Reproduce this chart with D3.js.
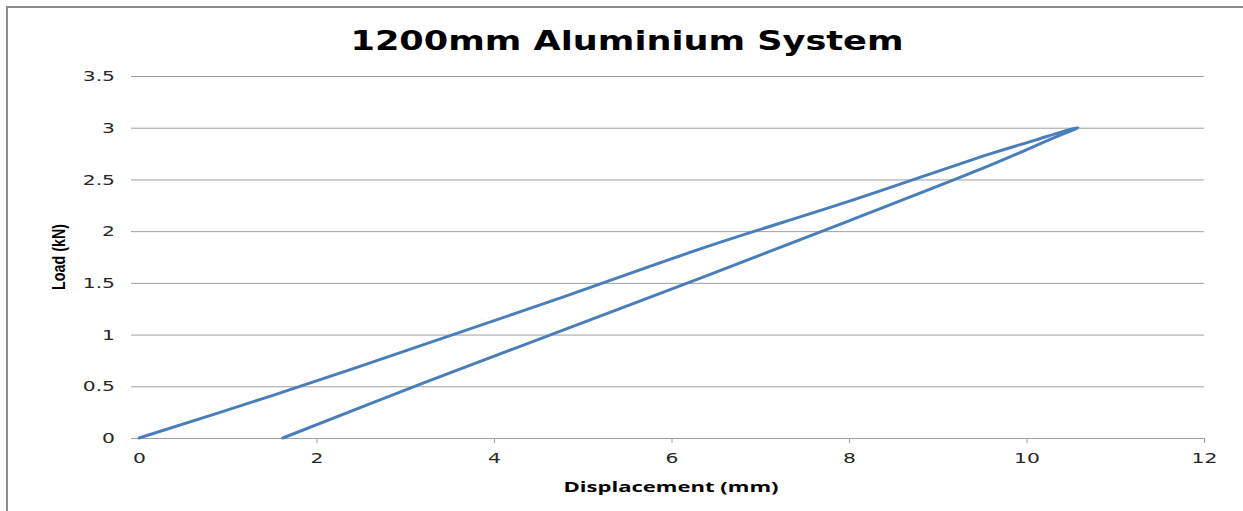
<!DOCTYPE html>
<html>
<head>
<meta charset="utf-8">
<script src="https://cdn.jsdelivr.net/npm/d3@7"></script>
<style>
  body { margin: 0; background: #fff; }
  svg { display: block; }
</style>
</head>
<body>
<svg id="chart" width="1243" height="511"></svg>
<script>
// load / unload cycle
const dispValues = [0, 1.5, 3.2, 4.8, 6.4, 7.97, 9.6, 10.1, 10.4, 10.58,
                    10.3, 9.6, 8.0, 6.4, 4.8, 3.2, 1.62];
const loadValues = [0, 0.41, 0.9, 1.37, 1.85, 2.28, 2.75, 2.88, 2.96, 3.0,
                    2.9, 2.64, 2.1, 1.57, 1.05, 0.53, 0];
const xTicks = [0, 2, 4, 6, 8, 10, 12];
const yTicks = [0, 0.5, 1, 1.5, 2, 2.5, 3, 3.5];

const svg = d3.select("#chart");
const margin = {top: 76, right: 39, bottom: 73, left: 139};
const width = 1243 - margin.left - margin.right;
const height = 511 - margin.top - margin.bottom;
const stretch = 1.4; // the picture's text is wide

// outer frame
svg.append("rect")
  .attr("x", 7).attr("y", 7)
  .attr("width", 1250).attr("height", 520)
  .attr("fill", "none")
  .attr("stroke", "#8c8c8c")
  .attr("stroke-width", 2);

const g = svg.append("g")
  .attr("transform", "translate(" + margin.left + "," + margin.top + ")");

const x = d3.scaleLinear().domain([0, 12]).range([0, width]);
const y = d3.scaleLinear().domain([0, 3.5]).range([height, 0]);

// gridlines + y labels
const yAxis = g.append("g")
  .call(d3.axisLeft(y).tickValues(yTicks).tickSize(-(width + 8)).tickPadding(16)
    .tickFormat(d => d));
yAxis.select(".domain").remove();
yAxis.selectAll(".tick line")
  .attr("x1", -8).attr("x2", width)
  .attr("stroke", "#a0a0a0");
yAxis.selectAll(".tick text")
  .attr("font-family", "Verdana, 'DejaVu Sans', sans-serif")
  .attr("font-size", 14.5)
  .attr("fill", "#262626")
  .attr("x", -24 / stretch)
  .attr("transform", "scale(" + stretch + ",1)");

// x axis
const xAxis = g.append("g")
  .attr("transform", "translate(0," + height + ")")
  .call(d3.axisBottom(x).tickValues(xTicks).tickSize(5).tickSizeOuter(0).tickPadding(10)
    .tickFormat(d => d));
xAxis.select(".domain")
  .attr("d", "M-8,0.5H" + width)
  .attr("stroke", "#a0a0a0");
xAxis.selectAll(".tick line").attr("stroke", "#a0a0a0");
xAxis.selectAll(".tick").filter(d => d === 0).select("line").remove();
xAxis.selectAll(".tick text")
  .attr("font-family", "Verdana, 'DejaVu Sans', sans-serif")
  .attr("font-size", 14.5)
  .attr("fill", "#262626")
  .attr("transform", "scale(" + stretch + ",1)");

// curve
const pts = dispValues.map((d, i) => [d, loadValues[i]]);
g.append("path")
  .datum(pts)
  .attr("fill", "none")
  .attr("stroke", "#4a7ebb")
  .attr("stroke-width", 3)
  .attr("stroke-linejoin", "round")
  .attr("stroke-linecap", "round")
  .attr("d", d3.line()
    .x(d => x(d[0]))
    .y(d => y(d[1]))
    .curve(d3.curveCatmullRom.alpha(0.5)));

// title
svg.append("text")
  .attr("x", 627).attr("y", 50)
  .attr("text-anchor", "middle")
  .attr("font-family", "Verdana, 'DejaVu Sans', sans-serif")
  .attr("font-weight", "bold")
  .attr("font-size", 26)
  .attr("textLength", 553)
  .attr("lengthAdjust", "spacingAndGlyphs")
  .attr("fill", "#000")
  .text("1200mm Aluminium System");

// axis titles
svg.append("text")
  .attr("x", 671).attr("y", 492)
  .attr("text-anchor", "middle")
  .attr("font-family", "'Open Sans', 'Liberation Sans', sans-serif")
  .attr("font-weight", "bold")
  .attr("font-size", 15)
  .attr("textLength", 215)
  .attr("lengthAdjust", "spacingAndGlyphs")
  .attr("fill", "#000")
  .text("Displacement (mm)");

svg.append("text")
  .attr("transform", "translate(65,257) rotate(-90)")
  .attr("text-anchor", "middle")
  .attr("font-family", "'Liberation Sans Narrow', 'Liberation Sans', sans-serif")
  .attr("font-weight", "bold")
  .attr("font-size", 18)
  .attr("textLength", 66)
  .attr("lengthAdjust", "spacingAndGlyphs")
  .attr("fill", "#000")
  .text("Load (kN)");
</script>
</body>
</html>
